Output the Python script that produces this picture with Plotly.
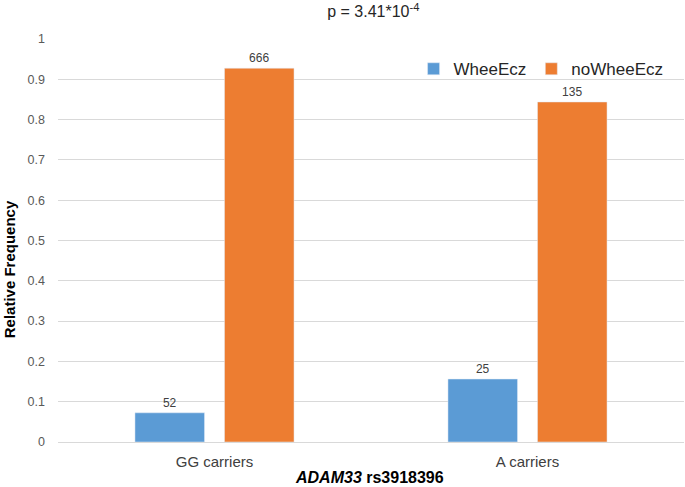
import plotly.graph_objects as go

categories = ["GG carriers", "A carriers"]
wheeecz_counts = [52, 25]
nowheeecz_counts = [666, 135]
wheeecz_freq = [52 / 718, 25 / 160]
nowheeecz_freq = [666 / 718, 135 / 160]
y_ticks = [0, 0.1, 0.2, 0.3, 0.4, 0.5, 0.6, 0.7, 0.8, 0.9, 1]
y_ticklabels = ["0", "0.1", "0.2", "0.3", "0.4", "0.5", "0.6", "0.7", "0.8", "0.9", "1"]

FONT = "Liberation Sans, Arial, sans-serif"

fig = go.Figure()
fig.add_trace(go.Bar(
    x=categories, y=wheeecz_freq, name="WheeEcz",
    marker_color="#5B9BD5",
    text=[str(v) for v in wheeecz_counts], textposition="outside",
    textfont=dict(size=12, color="#404040", family=FONT),
    cliponaxis=False,
))
fig.add_trace(go.Bar(
    x=categories, y=nowheeecz_freq, name="noWheeEcz",
    marker_color="#ED7D31",
    text=[str(v) for v in nowheeecz_counts], textposition="outside",
    textfont=dict(size=12, color="#404040", family=FONT),
    cliponaxis=False,
))

fig.update_layout(
    width=685, height=487,
    margin=dict(l=58, r=1, t=39, b=45, autoexpand=False),
    paper_bgcolor="white", plot_bgcolor="white",
    barmode="group", bargap=0.428, bargroupgap=0.223,
    font=dict(family=FONT, color="#404040"),
    title=dict(text="p = 3.41*10<sup>-4</sup>", x=0.545, xanchor="center",
               y=0.976, yanchor="middle",
               font=dict(size=16, color="#262626", family=FONT)),
    legend=dict(orientation="h", x=0.568, y=0.925, xanchor="left", yanchor="middle",
                font=dict(size=17, color="#262626", family=FONT),
                bgcolor="rgba(255,255,255,0)", itemwidth=30,
                traceorder="normal"),
    xaxis=dict(
        showline=False, showgrid=False, zeroline=False, automargin=False,
        tickfont=dict(size=15, color="#404040", family=FONT),
        ticklabelstandoff=9,
    ),
    yaxis=dict(
        range=[0, 1], tickvals=y_ticks, ticktext=y_ticklabels, automargin=False,
        showgrid=True, gridcolor="#D9D9D9", gridwidth=1,
        zeroline=True, zerolinecolor="#D9D9D9", zerolinewidth=1,
        showline=False, ticks="", ticklen=0,
        tickfont=dict(size=12.5, color="#595959", family=FONT),
        ticklabelstandoff=12,
    ),
    annotations=[
        dict(text="<b>Relative Frequency</b>", xref="paper", yref="paper",
             x=-0.078, y=0.429, xanchor="center", yanchor="middle",
             textangle=-90, showarrow=False,
             font=dict(size=15, color="#000000", family=FONT)),
        dict(text="<b><i>ADAM33</i> rs3918396</b>", xref="paper", yref="paper",
             x=0.497, y=-0.0893, xanchor="center", yanchor="middle",
             showarrow=False,
             font=dict(size=16, color="#000000", family=FONT)),
    ],
)

fig.write_html(
    "out.html",
    config={"displayModeBar": False},
    post_script="document.body.style.margin='0';document.body.style.overflow='hidden';",
)
